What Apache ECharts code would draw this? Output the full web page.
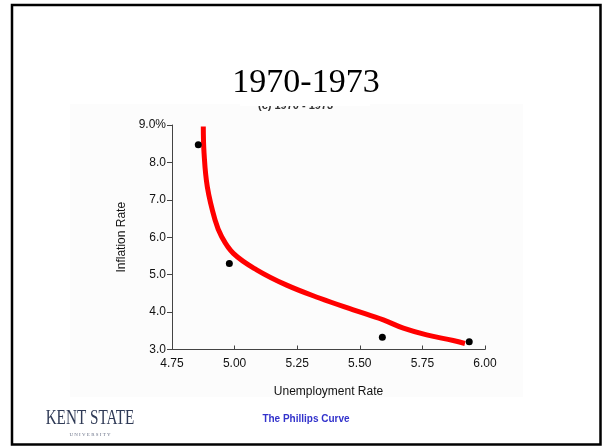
<!DOCTYPE html>
<html>
<head>
<meta charset="utf-8">
<script src="https://cdn.jsdelivr.net/npm/echarts@6/dist/echarts.min.js"></script>
<style>
html,body{margin:0;padding:0;background:#fff;}
#chart{width:605px;height:446px;}
</style>
</head>
<body>
<div id="chart"></div>
<script>
// ---- data ----
const titleText = '1970-1973';
const footerText = 'The Phillips Curve';
const xAxisName = 'Unemployment Rate';
const yAxisName = 'Inflation Rate';
// observed points (unemployment %, inflation %)
const pointsX = [4.855, 4.979, 5.590, 5.937];
const pointsY = [8.47, 5.30, 3.33, 3.21];
// fitted Phillips curve
const curveX = [4.875, 4.878, 4.891, 4.922, 4.948, 4.995, 5.088, 5.208, 5.341, 5.474, 5.594, 5.674, 5.767, 5.873, 5.920];
const curveY = [8.96, 8.25, 7.35, 6.46, 6.02, 5.57, 5.13, 4.72, 4.37, 4.06, 3.79, 3.57, 3.39, 3.24, 3.16];
const xTickLabels = ['4.75', '5.00', '5.25', '5.50', '5.75', '6.00'];
const yTickLabels = ['3.0', '4.0', '5.0', '6.0', '7.0', '8.0', '9.0%'];

const chart = echarts.init(document.getElementById('chart'), null, {renderer: 'canvas'});
const labelFont = 'Liberation Sans';

const option = {
  backgroundColor: '#ffffff',
  animation: false,
  grid: {left: 172, right: 120, top: 125, bottom: 96.5},
  xAxis: {
    type: 'value', min: 4.75, max: 6.0, interval: 0.25,
    name: xAxisName, nameLocation: 'middle', nameGap: 36,
    nameTextStyle: {color: '#111', fontSize: 12, fontFamily: labelFont},
    axisLine: {lineStyle: {color: '#444', width: 1}},
    axisTick: {inside: true, length: 4, lineStyle: {color: '#444'}},
    axisLabel: {color: '#111', fontSize: 12, fontFamily: labelFont, margin: 8,
      formatter: (v) => xTickLabels[Math.round((v - 4.75) / 0.25)] || ''},
    splitLine: {show: false}
  },
  yAxis: {
    type: 'value', min: 3, max: 9, interval: 1,
    name: yAxisName, nameLocation: 'middle', nameGap: 44, nameRotate: 90,
    nameTextStyle: {color: '#111', fontSize: 12, fontFamily: labelFont},
    axisLine: {show: true, lineStyle: {color: '#444', width: 1}},
    axisTick: {show: true, inside: false, length: 5, lineStyle: {color: '#444'}},
    axisLabel: {color: '#111', fontSize: 12, fontFamily: labelFont, margin: 6,
      formatter: (v) => yTickLabels[Math.round(v - 3)] || ''},
    splitLine: {show: false}
  },
  graphic: [
    {type: 'rect', z: -10, shape: {x: 70, y: 104, width: 453, height: 293}, style: {fill: '#fcfcfc'}},
    {type: 'text', z: 0, left: 258, top: 100, style: {text: '(c) 1970 - 1973', fill: '#333', font: 'bold 11px Liberation Sans'}},
    {type: 'rect', z: 1, shape: {x: 240, y: 95, width: 130, height: 11}, style: {fill: '#ffffff'}},
    {type: 'text', z: 5, style: {text: titleText, x: 306, y: 83, align: 'center', verticalAlign: 'middle',
      fill: '#000', font: '34px "Liberation Serif"'}},
    {type: 'text', z: 5, style: {text: footerText, x: 306, y: 419, align: 'center', verticalAlign: 'middle',
      fill: '#3333cc', font: 'bold 10px "Liberation Sans"'}},
    {type: 'text', z: 5, style: {text: 'KENT STATE', x: 90, y: 419, align: 'center', verticalAlign: 'middle',
      fill: '#2f3a56', font: '20px "Liberation Serif"'}, scaleX: 0.76, originX: 90, originY: 419},
    {type: 'text', z: 5, style: {text: 'U N I V E R S I T Y', x: 90, y: 435, align: 'center', verticalAlign: 'middle',
      fill: '#6a7288', font: '5px "Liberation Serif"'}},
    {type: 'rect', z: 20, shape: {x: 12, y: 5, width: 588.5, height: 439.5},
      style: {fill: 'none', stroke: '#000', lineWidth: 2.5}}
  ],
  series: [
    {
      type: 'line', data: curveX.map((x, i) => [x, curveY[i]]),
      smooth: 0.4, showSymbol: false, z: 3,
      lineStyle: {color: '#ff0000', width: 5, cap: 'butt', join: 'round'}
    },
    {
      type: 'scatter', data: pointsX.map((x, i) => [x, pointsY[i]]),
      symbolSize: 7, z: 4,
      itemStyle: {color: '#000', opacity: 1}
    }
  ]
};
chart.setOption(option);
</script>
</body>
</html>
